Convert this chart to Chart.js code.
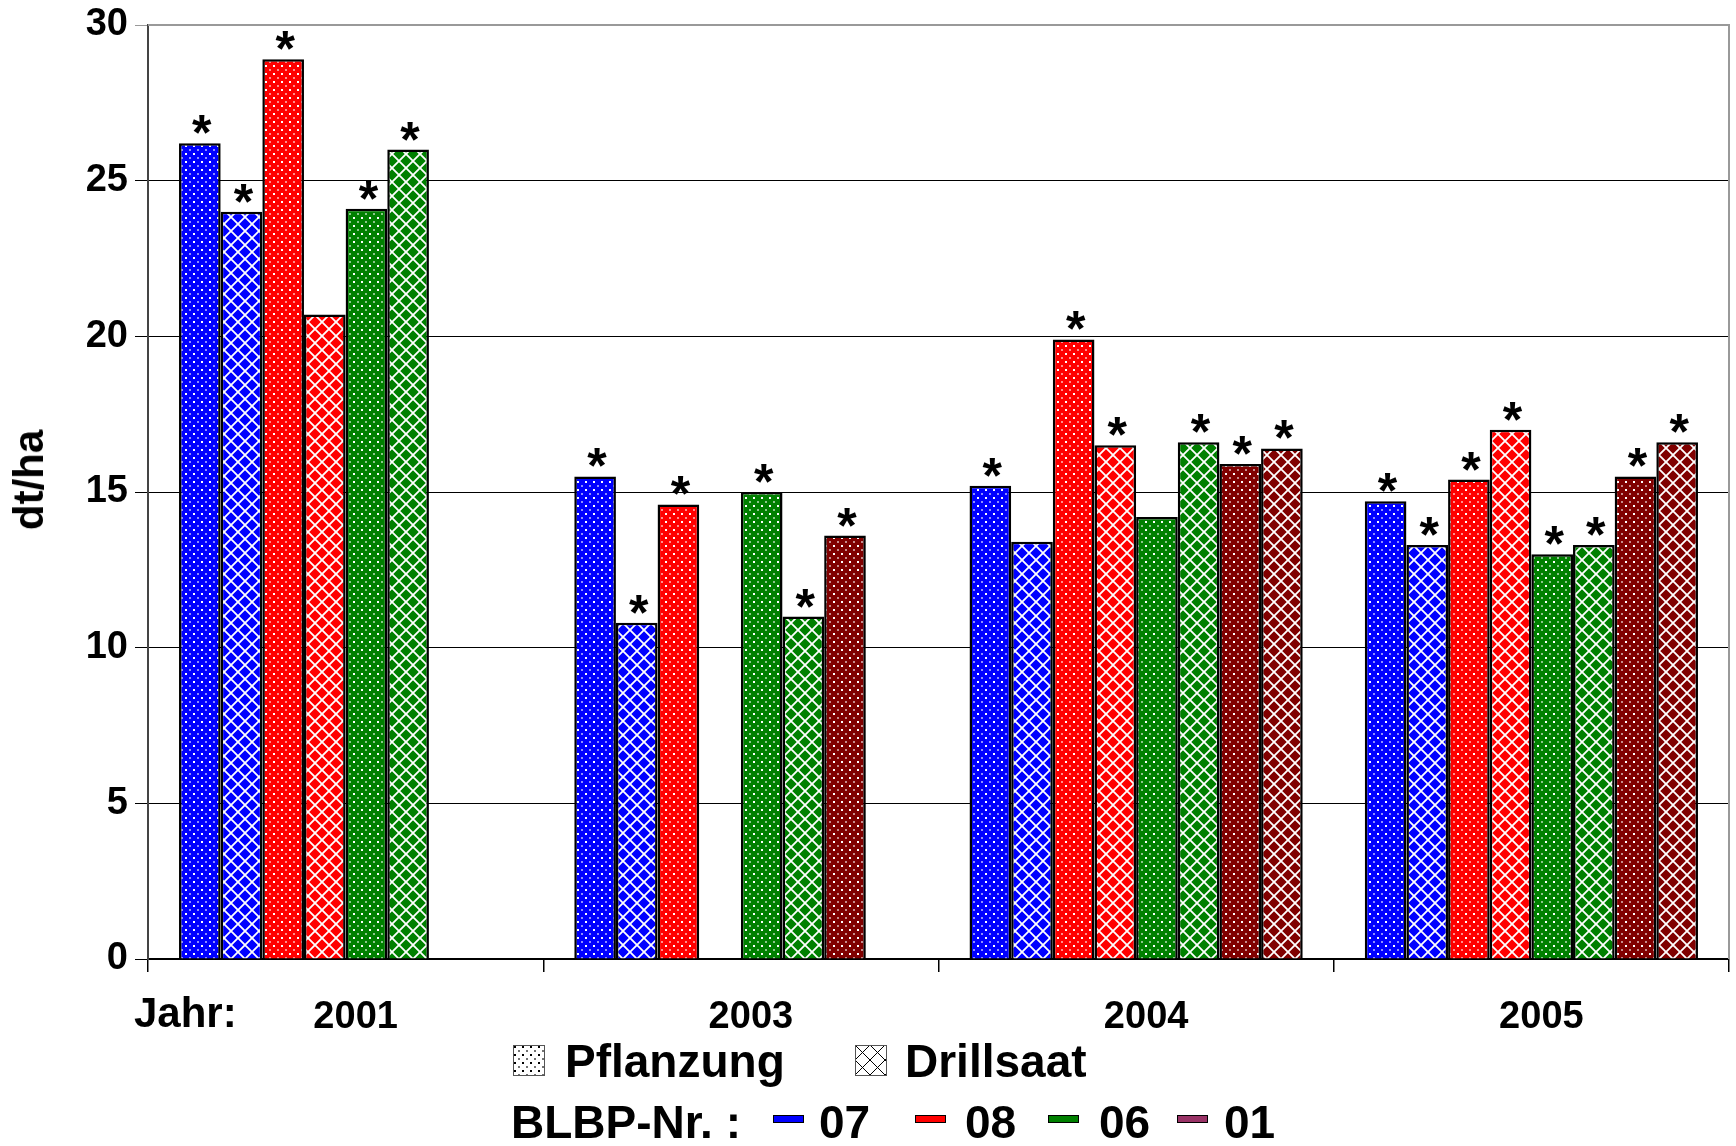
<!DOCTYPE html>
<html>
<head>
<meta charset="utf-8">
<script src="https://cdn.jsdelivr.net/npm/chart.js@4/dist/chart.umd.min.js"></script>
<style>
    html, body { margin: 0; padding: 0; background: #fff; }
    #wrap { position: relative; width: 1736px; height: 1146px; }
    .lbl {
        position: absolute;
        font-family: 'Liberation Sans', Arial, sans-serif;
        font-weight: bold;
        color: #000;
        white-space: nowrap;
    }
    .big { font-size: 46px; line-height: 46px; }
    .dash { position: absolute; width: 29px; height: 6px; border: 1px solid #000; top: 1115px; }
</style>
</head>
<body>
<div id="wrap">
    <canvas id="yieldChart" width="1736" height="1146"></canvas>
    <div class="lbl" id="yTitle" style="left:29px; top:480px; font-size:42px; line-height:42px; transform:translate(-50%,-50%) rotate(-90deg);">dt/ha</div>
    <div class="lbl" style="left:134px; top:992px; font-size:42px; line-height:42px;">Jahr:</div>

    <canvas id="iconP" class="lbl" width="32" height="31" style="left:513px; top:1045px;"></canvas>
    <div class="lbl big" style="left:565px; top:1038px;">Pflanzung</div>
    <canvas id="iconD" class="lbl" width="32" height="31" style="left:855px; top:1045px;"></canvas>
    <div class="lbl big" style="left:905px; top:1038px;">Drillsaat</div>

    <div class="lbl big" style="left:511px; top:1099px;">BLBP-Nr. :</div>
    <div class="dash" style="left:773px; background:#0000ff;"></div>
    <div class="lbl big" style="left:819px; top:1099px;">07</div>
    <div class="dash" style="left:915px; background:#ff0000;"></div>
    <div class="lbl big" style="left:965px; top:1099px;">08</div>
    <div class="dash" style="left:1048px; background:#008000;"></div>
    <div class="lbl big" style="left:1099px; top:1099px;">06</div>
    <div class="dash" style="left:1177px; background:#993366;"></div>
    <div class="lbl big" style="left:1224px; top:1099px;">01</div>
</div>
<script>
// Jahre
const years = ['2001', '2003', '2004', '2005'];
const yTicks = [0, 5, 10, 15, 20, 25, 30];

// Ertrag dt/ha je BLBP-Nr. und Verfahren (P = Pflanzung, D = Drillsaat)
const v07P = [26.2, 15.5, 15.2, 14.7];
const v07D = [24.0, 10.8, 13.4, 13.3];
const v08P = [28.9, 14.6, 19.9, 15.4];
const v08D = [20.7, null, 16.5, 17.0];
const v06P = [24.1, 15.0, 14.2, 13.0];
const v06D = [26.0, 11.0, 16.6, 13.3];
const v01P = [null, 13.6, 15.9, 15.5];
const v01D = [null, null, 16.4, 16.6];

// Sternchen (signifikant) je Balken
const s07P = [1, 1, 1, 1];
const s07D = [1, 1, 0, 1];
const s08P = [1, 1, 1, 1];
const s08D = [0, 0, 1, 1];
const s06P = [1, 1, 0, 1];
const s06D = [1, 1, 1, 1];
const s01P = [0, 1, 1, 1];
const s01D = [0, 0, 1, 1];

// dotted fill for Pflanzung
function dotPattern(color, dotColor) {
    const c = document.createElement('canvas');
    c.width = 8; c.height = 8;
    const g = c.getContext('2d');
    g.fillStyle = color;
    g.fillRect(0, 0, 8, 8);
    g.fillStyle = dotColor;
    g.fillRect(1, 1, 2, 2);
    g.globalAlpha = 0.55;
    g.fillRect(5, 5, 2, 2);
    return c;
}

// crosshatch fill for Drillsaat
function crossPattern(color, lineColor, size, lw) {
    const c = document.createElement('canvas');
    c.width = size; c.height = size;
    const g = c.getContext('2d');
    g.fillStyle = color;
    g.fillRect(0, 0, size, size);
    g.strokeStyle = lineColor;
    g.lineWidth = lw;
    g.beginPath();
    g.moveTo(-1, -1); g.lineTo(size + 1, size + 1);
    g.moveTo(size + 1, -1); g.lineTo(-1, size + 1);
    g.stroke();
    return c;
}

const ctx = document.getElementById('yieldChart').getContext('2d');
const dots = (col) => ctx.createPattern(dotPattern(col, '#ffffff'), 'repeat');
const cross = (col) => ctx.createPattern(crossPattern(col, '#ffffff', 14, 1.8), 'repeat');

function bar(label, data, fill, stars) {
    return {
        label: label,
        data: data,
        stars: stars,
        backgroundColor: fill,
        borderColor: '#000',
        borderWidth: 2.5,
        categoryPercentage: 0.843,
        barPercentage: 1.0
    };
}

// asterisks above the marked bars
const starPlugin = {
    id: 'stars',
    afterDatasetsDraw(chart) {
        const c = chart.ctx;
        c.save();
        c.fillStyle = '#000';
        c.font = 'bold 50px "Liberation Sans", Arial, sans-serif';
        c.textAlign = 'center';
        c.textBaseline = 'alphabetic';
        chart.data.datasets.forEach((ds, i) => {
            const meta = chart.getDatasetMeta(i);
            meta.data.forEach((el, j) => {
                if (ds.stars[j] && ds.data[j] != null) {
                    c.fillText('*', el.x + 2, el.y + 7);
                }
            });
        });
        c.restore();
    }
};

// grey frame on top and right
const framePlugin = {
    id: 'frame',
    afterDraw(chart) {
        const a = chart.chartArea;
        const c = chart.ctx;
        c.save();
        c.strokeStyle = '#999';
        c.lineWidth = 2;
        c.beginPath();
        c.moveTo(a.left, a.top);
        c.lineTo(a.right, a.top);
        c.lineTo(a.right, a.bottom);
        c.stroke();
        c.restore();
    }
};

Chart.defaults.font.family = '"Liberation Sans", Arial, sans-serif';
Chart.defaults.color = '#000';

new Chart(ctx, {
    type: 'bar',
    data: {
        labels: years,
        datasets: [
            bar('07 Pflanzung', v07P, dots('#0000ff'), s07P),
            bar('07 Drillsaat', v07D, cross('#0000ff'), s07D),
            bar('08 Pflanzung', v08P, dots('#ff0000'), s08P),
            bar('08 Drillsaat', v08D, cross('#ff0000'), s08D),
            bar('06 Pflanzung', v06P, dots('#008000'), s06P),
            bar('06 Drillsaat', v06D, cross('#008000'), s06D),
            bar('01 Pflanzung', v01P, dots('#800000'), s01P),
            bar('01 Drillsaat', v01D, cross('#800000'), s01D)
        ]
    },
    options: {
        responsive: false,
        animation: false,
        layout: {
            padding: { top: 25, right: 7, left: 0, bottom: 0 }
        },
        plugins: {
            legend: { display: false },
            tooltip: { enabled: false }
        },
        scales: {
            x: {
                afterFit(scale) { scale.height = 187; },
                border: { color: '#000', width: 2 },
                grid: {
                    offset: true,
                    drawOnChartArea: false,
                    tickLength: 13,
                    color: '#000',
                    lineWidth: 1.5
                },
                ticks: {
                    font: { size: 38, weight: 'bold' },
                    padding: 23,
                    labelOffset: 10,
                    maxRotation: 0
                }
            },
            y: {
                min: 0,
                max: 30,
                afterFit(scale) { scale.width = 148; },
                afterBuildTicks(scale) { scale.ticks = yTicks.map(v => ({ value: v })); },
                border: { color: '#444', width: 2 },
                grid: {
                    tickLength: 13,
                    color: (c) => c.tick && c.tick.value === 30 ? '#999' : '#000',
                    lineWidth: 1
                },
                ticks: {
                    font: { size: 38, weight: 'bold', lineHeight: 0.75 },
                    padding: 7
                }
            }
        }
    },
    plugins: [starPlugin, framePlugin]
});

// legend icons: black pattern on white
function drawIcon(id, tile) {
    const el = document.getElementById(id);
    const g = el.getContext('2d');
    g.fillStyle = g.createPattern(tile, 'repeat');
    g.fillRect(0, 0, el.width, el.height);
    g.strokeStyle = '#555';
    g.lineWidth = 1;
    g.strokeRect(0.5, 0.5, el.width - 1, el.height - 1);
}
drawIcon('iconP', dotPattern('#ffffff', '#000000'));
drawIcon('iconD', crossPattern('#ffffff', '#000000', 15, 1));
</script>
</body>
</html>
